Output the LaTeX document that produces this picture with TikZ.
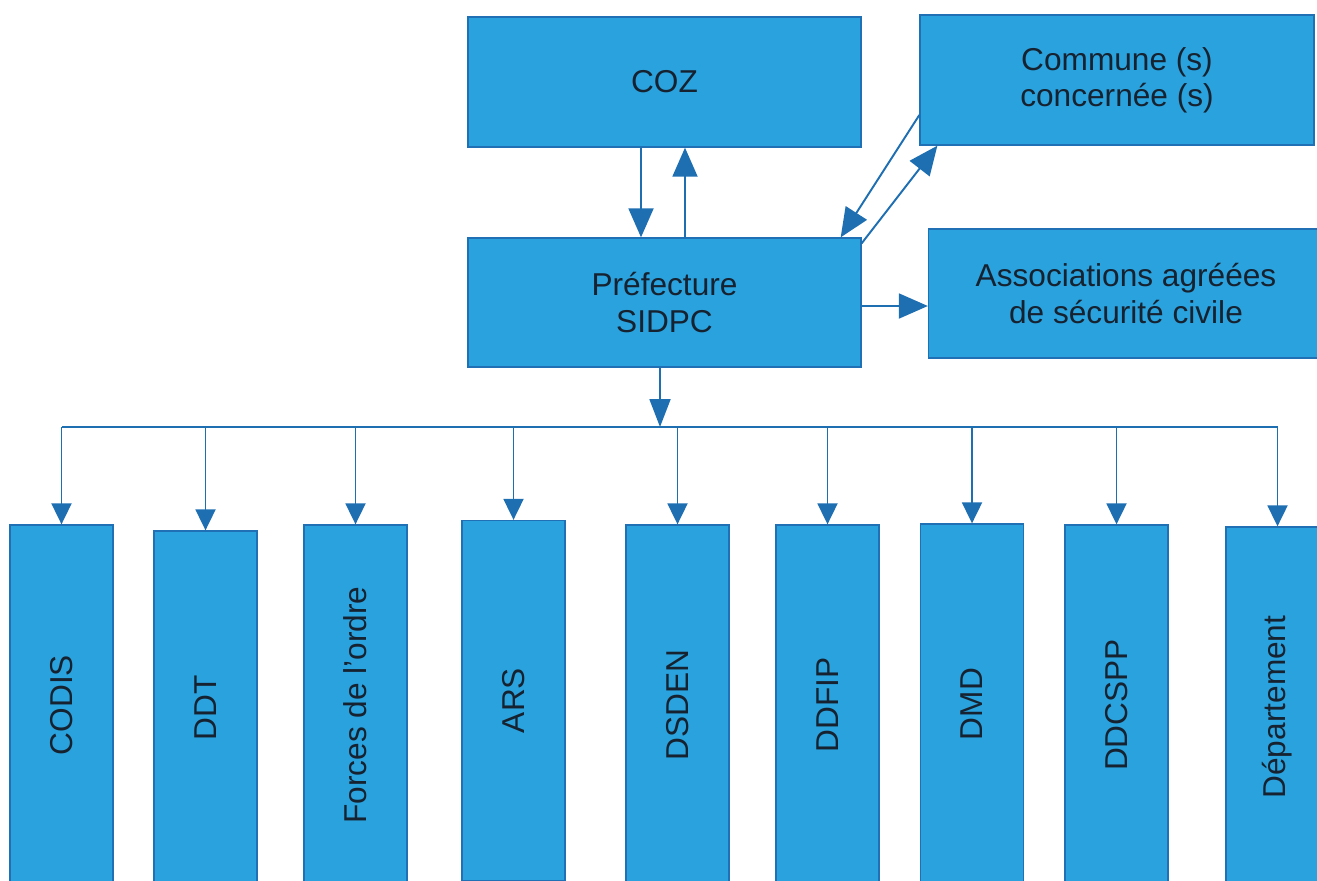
\documentclass[tikz,border=0pt]{standalone}
\usepackage{fontspec}
\setmainfont{Liberation Sans}
\usepackage{graphicx}
\usetikzlibrary{arrows.meta}
\definecolor{boxfill}{RGB}{42,162,221}
\definecolor{boxline}{RGB}{31,112,180}
\definecolor{arrline}{RGB}{30,110,178}
\definecolor{txt}{RGB}{22,34,48}
\tikzset{
  orgbox/.style={rectangle, draw=boxline, line width=0.8pt, fill=boxfill, text=txt,
    align=center, font=\fontsize{18}{20.5}\selectfont, inner sep=0pt},
  wide/.style={orgbox, minimum width=7.86cm, minimum height=2.6cm},
  tall/.style={orgbox, minimum width=2.06cm, minimum height=7.2cm},
  arr/.style={draw=arrline, line width=1.1pt, -{Triangle[length=0.58cm,width=0.5cm]}, fill=arrline},
  droparr/.style={arr, -{Triangle[length=0.42cm,width=0.4cm]}}
}

\begin{document}
\begin{tikzpicture}[x=0.02cm, y=-0.02cm]
  \useasboundingbox (0,0) rectangle (1317,880);
  \clip (0,0) rectangle (1317,880);
  % upper level
  \node[wide] (coz) at (664.5, 82) {COZ};
  \node[wide, minimum width=7.88cm] (commune) at (1117, 80) {Commune (s)\\concernée (s)};
  \node[wide, minimum height=2.58cm] (pref) at (664.5, 302.5) {Préfecture\\SIDPC};
  \node[wide, minimum width=7.9cm, minimum height=2.58cm] (assoc) at (1126, 293.5) {Associations agréées\\de sécurité civile};
  % services
  \node[tall] (codis) at (61.5, 705) {\rotatebox{90}{CODIS}};
  \node[tall, minimum height=7.08cm] (ddt) at (205.5, 708) {\rotatebox{90}{DDT}};
  \node[tall] (forces) at (355.5, 705) {\rotatebox{90}{Forces de l’ordre}};
  \node[tall] (ars) at (513.5, 700.5) {\rotatebox{90}{ARS}};
  \node[tall] (dsden) at (677.5, 705) {\rotatebox{90}{DSDEN}};
  \node[tall] (ddfip) at (827.5, 705) {\rotatebox{90}{DDFIP}};
  \node[tall] (dmd) at (972, 704) {\rotatebox{90}{DMD}};
  \node[tall] (ddcspp) at (1116.5, 705) {\rotatebox{90}{DDCSPP}};
  \node[tall] (dep) at (1277.5, 707) {\rotatebox{90}{Département}};
  \coordinate (bus) at (660, 427);
  % links
  \draw[arr] ([xshift=-0.47cm]coz.south) -- ([xshift=-0.47cm]pref.north);
  \draw[arr] ([xshift=0.41cm]pref.north) -- ([xshift=0.41cm]coz.south);
  \draw[arr] ([yshift=-0.7cm]commune.west) -- ([xshift=-0.42cm]pref.north east);
  \draw[arr] ([yshift=-0.12cm]pref.north east) -- ([xshift=0.36cm]commune.south west);
  \draw[arr] ([yshift=-0.07cm]pref.east) -- ([yshift=-0.07cm]pref.east -| assoc.west);
  \draw[arr, -{Triangle[length=0.56cm,width=0.42cm]}] (pref.south -| bus) -- (bus);
  \draw[draw=arrline, line width=1.1pt] (codis.north |- bus) -- (dep.north |- bus);
  \foreach \s in {codis, ddt, forces, ars, dsden, ddfip, dmd, ddcspp, dep}
    \draw[droparr] (\s.north |- bus) -- (\s.north);
\end{tikzpicture}
\end{document}
